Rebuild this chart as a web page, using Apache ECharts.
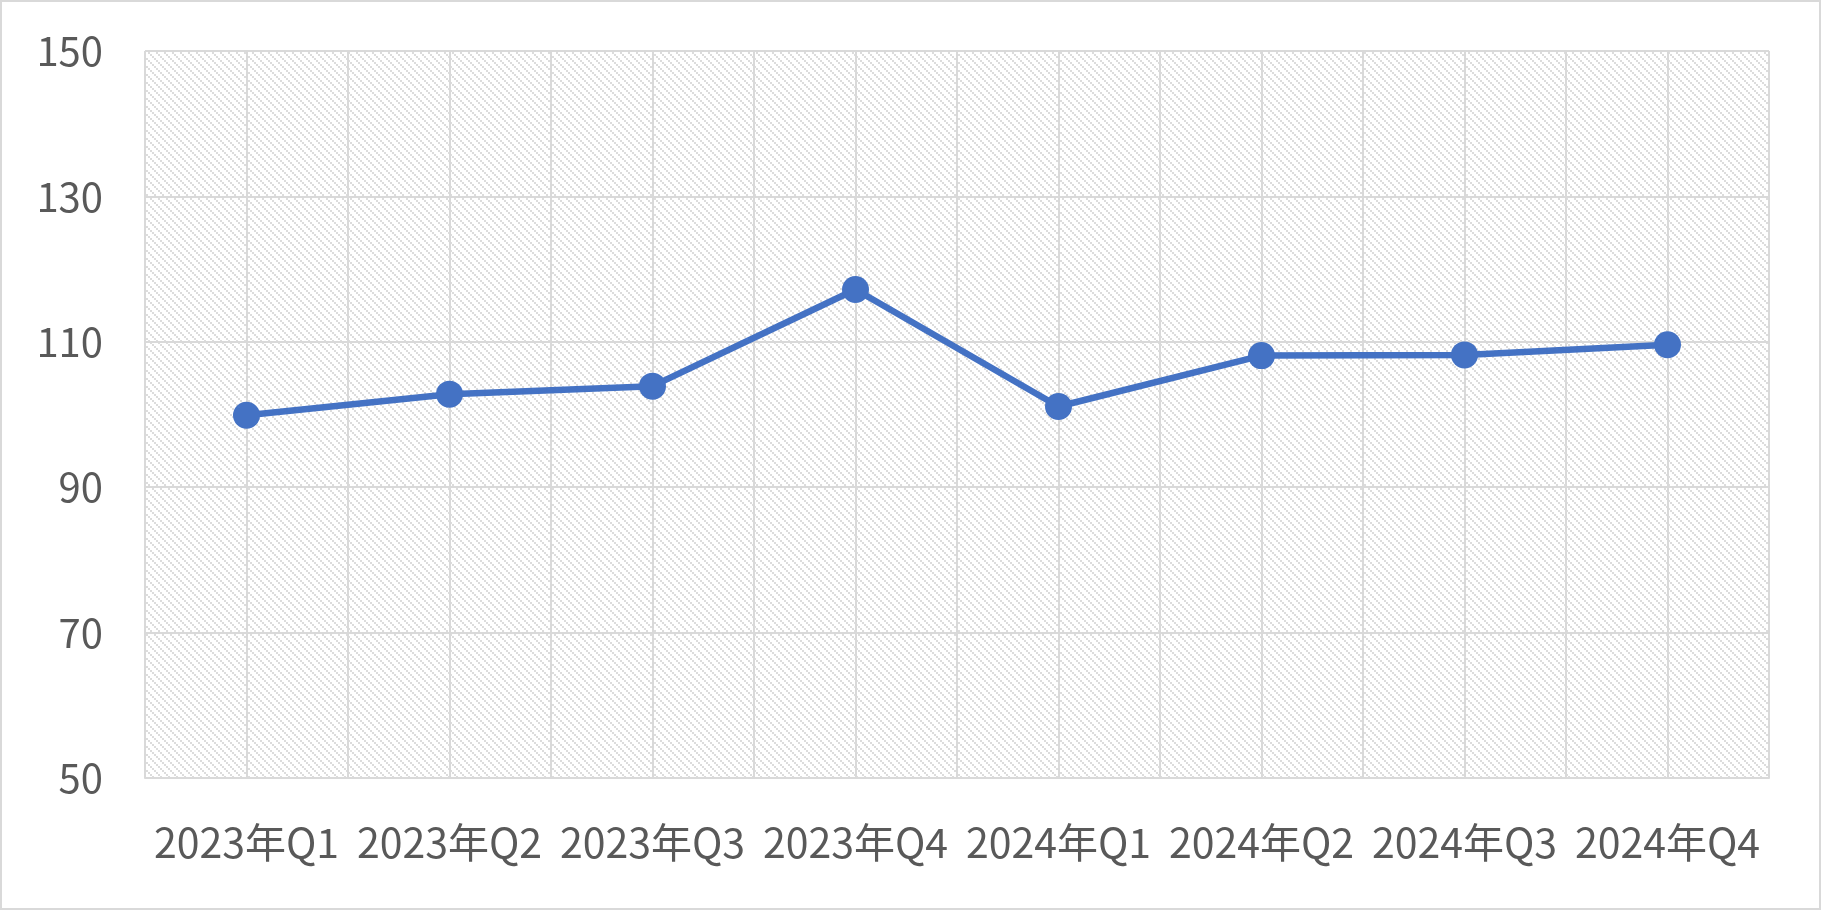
<!DOCTYPE html>
<html>
<head>
<meta charset="utf-8">
<script src="https://cdn.jsdelivr.net/npm/echarts@6/dist/echarts.min.js"></script>
<style>
html,body{margin:0;padding:0;background:#fff;}
#chart{width:1821px;height:910px;}
</style>
</head>
<body>
<div id="chart"></div>
<script>
const categories = ['2023年Q1','2023年Q2','2023年Q3','2023年Q4','2024年Q1','2024年Q2','2024年Q3','2024年Q4'];
const values = [99.9, 102.8, 103.9, 117.2, 101.1, 108.1, 108.2, 109.6];
const yTicks = { min: 50, max: 150, interval: 20 };

// hatch tile
const tile = document.createElement('canvas');
tile.width = 8; tile.height = 8;
const tctx = tile.getContext('2d');
tctx.fillStyle = '#ffffff';
tctx.fillRect(0, 0, 8, 8);
tctx.fillStyle = '#dcdcdc';
for (let i = 0; i < 8; i += 2) {
  tctx.fillRect(i, i, 2, 2);
}

const chart = echarts.init(document.getElementById('chart'), null, {renderer: 'canvas'});
const font = '"Noto Sans CJK SC", "Noto Sans", sans-serif';
chart.setOption({
  animation: false,
  backgroundColor: '#ffffff',
  graphic: [{
    type: 'rect',
    shape: {x: 1, y: 1, width: 1819, height: 908},
    style: {fill: 'none', stroke: '#d9d9d9', lineWidth: 2},
    silent: true
  }],
  grid: {
    left: 145, right: 52, top: 51, bottom: 132,
    show: true,
    backgroundColor: {image: tile, repeat: 'repeat'},
    borderWidth: 0
  },
  xAxis: [{
    type: 'category',
    data: categories,
    boundaryGap: true,
    axisLine: {show: true, lineStyle: {color: '#d9d9d9', width: 2}},
    axisTick: {show: false},
    splitLine: {show: true, lineStyle: {color: '#d9d9d9', width: 2}},
    axisLabel: {color: '#595959', fontSize: 41, fontFamily: font, margin: 42, lineHeight: 44, interval: 0}
  }, {
    type: 'value',
    min: 0, max: 16, interval: 1,
    position: 'bottom',
    show: true,
    axisLine: {show: false},
    axisTick: {show: false},
    axisLabel: {show: false},
    splitLine: {show: true, lineStyle: {color: '#d9d9d9', width: 2}}
  }],
  yAxis: {
    type: 'value',
    min: yTicks.min, max: yTicks.max, interval: yTicks.interval,
    axisLine: {show: false},
    axisTick: {show: false},
    splitLine: {show: true, lineStyle: {color: '#d9d9d9', width: 2}},
    axisLabel: {color: '#595959', fontSize: 40, fontFamily: font, margin: 42}
  },
  series: [{
    type: 'line',
    xAxisIndex: 0,
    data: values,
    symbol: 'circle',
    symbolSize: 27,
    lineStyle: {color: '#4472C4', width: 6.5},
    itemStyle: {color: '#4472C4'},
    z: 5
  }]
});
</script>
</body>
</html>
